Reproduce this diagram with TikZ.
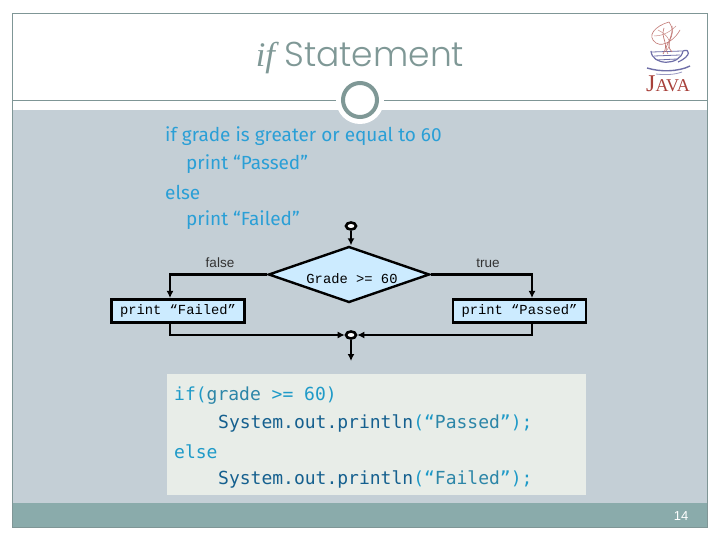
\documentclass[tikz,border=0pt]{standalone}
\usepackage{fontspec}
\setmainfont{Poppins Light}
\setmonofont{DejaVu Sans Mono}
\newfontfamily\flowfont{Liberation Sans}
\newfontfamily\boxfont{Liberation Mono}
\newfontfamily\ifont{Liberation Serif}
\newfontfamily\pseudofont{Fira Sans}
\usetikzlibrary{arrows.meta,positioning,shapes.geometric}
\definecolor{slide}{HTML}{C4CFD6}
\definecolor{band}{HTML}{8AABAB}
\definecolor{frame}{HTML}{7F9696}
\definecolor{titleink}{HTML}{7F9896}
\definecolor{pseudo}{HTML}{2A9FD6}
\definecolor{codebg}{HTML}{E8EDE8}
\definecolor{codeink}{HTML}{1E9AC8}
\definecolor{codedark}{HTML}{15608F}
\definecolor{codemid}{HTML}{2C86A8}
\definecolor{flowfill}{HTML}{CCEBFF}
\definecolor{javared}{HTML}{A8403A}
\definecolor{javablue}{HTML}{6F6FA8}
\tikzset{
  pseudotext/.style={anchor=west,text=pseudo,font=\pseudofont\fontsize{19}{19}\selectfont,inner sep=0pt},
  codetext/.style={anchor=west,text=codeink,font=\ttfamily\fontsize{18}{18}\selectfont,inner sep=0pt},
  decision/.style={diamond,draw=black,fill=flowfill,line width=2.4pt,inner sep=0pt,aspect=2.85,minimum width=161pt,minimum height=56pt},
  action/.style={rectangle,draw=black,fill=flowfill,line width=2.6pt,minimum width=133pt,minimum height=23.5pt,inner sep=0pt,font=\boxfont\fontsize{13.8}{14}\selectfont},
  branch/.style={font=\flowfont\fontsize{13.5}{13.5}\selectfont,text=black!80,inner sep=0pt},
  flowdot/.style={ellipse,draw=black,fill=white,line width=2.6pt,minimum width=10pt,minimum height=7pt,inner sep=0pt},
  flow/.style={-{Latex[length=7pt,width=7pt]},line width=2.4pt,draw=black}
}
\begin{document}
\begin{tikzpicture}[x=1pt,y=-1pt]
  \useasboundingbox (0,0) rectangle (720,540);
  \fill[white] (0,0) rectangle (720,540);
  % slide
  \fill[slide] (12,110) rectangle (707,503);
  \fill[band] (12,503) rectangle (707,527);
  \draw[frame,line width=0.8pt] (12,13) rectangle (707,527);
  \draw[frame,line width=0.8pt] (12,100) -- (707,100);
  \node[circle,fill=white,minimum size=48pt,inner sep=0pt] (ringbase) at (360,100) {};
  \node[circle,draw=titleink,line width=4pt,fill=white,minimum size=34pt,inner sep=0pt] (ring) at (360,100) {};
  \node[text=titleink,font=\fontsize{34.5}{35}\selectfont,inner sep=0pt] (title) at (360,58) {{\ifont\itshape if} Statement};
  \node[text=white,font=\flowfont\fontsize{13}{13}\selectfont,inner sep=0pt] (pageno) at (681,516) {14};
  % logo
  \node[text=javared,font=\ifont\fontsize{24}{24}\selectfont,inner sep=0pt] (javaword) at (668,84) {J\fontsize{18}{18}\selectfont AVA};
  \draw[javablue,line width=1.2pt] (651,51) .. controls (652,66) and (680,66) .. (683,51) .. controls (690,48) and (692,56) .. (678,62);
  \draw[javablue,line width=0.8pt] (652,52) -- (682,51) (654,56) -- (680,55) (657,60) -- (677,59);
  \draw[javablue,line width=1.4pt] (647,68) .. controls (660,72) and (678,72) .. (690,66);
  \draw[javablue!70,line width=0.8pt] (656,74) .. controls (664,75) and (674,75) .. (682,72);
  \draw[javared!70,line width=0.6pt] (668,54) .. controls (660,44) and (680,38) .. (669,22) .. controls (655,26) and (646,36) .. (656,43) .. controls (664,48) and (676,38) .. (680,30);
  \draw[javared!70,line width=0.7pt] (663,54) .. controls (670,44) and (660,38) .. (664,28) (672,52) .. controls (664,44) and (674,36) .. (672,26);
  \draw[javared!60,line width=0.5pt] (658,30) .. controls (670,36) and (672,44) .. (667,50) (676,26) .. controls (668,34) and (660,36) .. (654,36);
  % pseudocode
  \node[pseudotext] (p1) at (165,136.5) {if grade is greater or equal to 60};
  \node[pseudotext] (p2) at (186,164.5) {print “Passed”};
  \node[pseudotext] (p3) at (165,192.5) {else};
  \node[pseudotext] (p4) at (186,220.5) {print “Failed”};
  % flowchart
  \node[flowdot] (start) at (351,226) {};
  \node[decision] (test) at (349,274.5) {};
  \node[font=\boxfont\fontsize{13.8}{14}\selectfont,inner sep=0pt] (testlabel) at (352,279) {Grade >= 60};
  \node[action] (failed) at (178,311) {print “Failed”};
  \node[action] (passed) at (519.5,311) {print “Passed”};
  \node[flowdot] (merge) at (351,335) {};
  \coordinate[below=26pt of merge.center] (end);
  \node[branch] (falselabel) at (220,263) {false};
  \node[branch] (truelabel) at (488,263) {true};
  \draw[flow] (start) -- (start |- test.north);
  \draw[flow] (test.west) -| ([xshift=-8pt]failed.north);
  \draw[flow] (test.east) -| ([xshift=12.5pt]passed.north);
  \draw[flow] ([xshift=-8pt]failed.south) |- (merge);
  \draw[flow] ([xshift=12.5pt]passed.south) |- (merge);
  \draw[flow] (merge) -- (end);
  % java code
  \node[fill=codebg,minimum width=419pt,minimum height=121pt,inner sep=0pt] (codebox) at (376,434.5) {};
  \node[codetext] (c1) at (174,395.5) {if(\textcolor{codemid}{grade} >= 60)};
  \node[codetext] (c2) at (218,423.5) {\textcolor{codedark}{System.out.println}(“\textcolor{codemid}{Passed}”);};
  \node[codetext] (c3) at (174,451.5) {else};
  \node[codetext] (c4) at (218,479.5) {\textcolor{codedark}{System.out.println}(“\textcolor{codemid}{Failed}”);};
\end{tikzpicture}
\end{document}
